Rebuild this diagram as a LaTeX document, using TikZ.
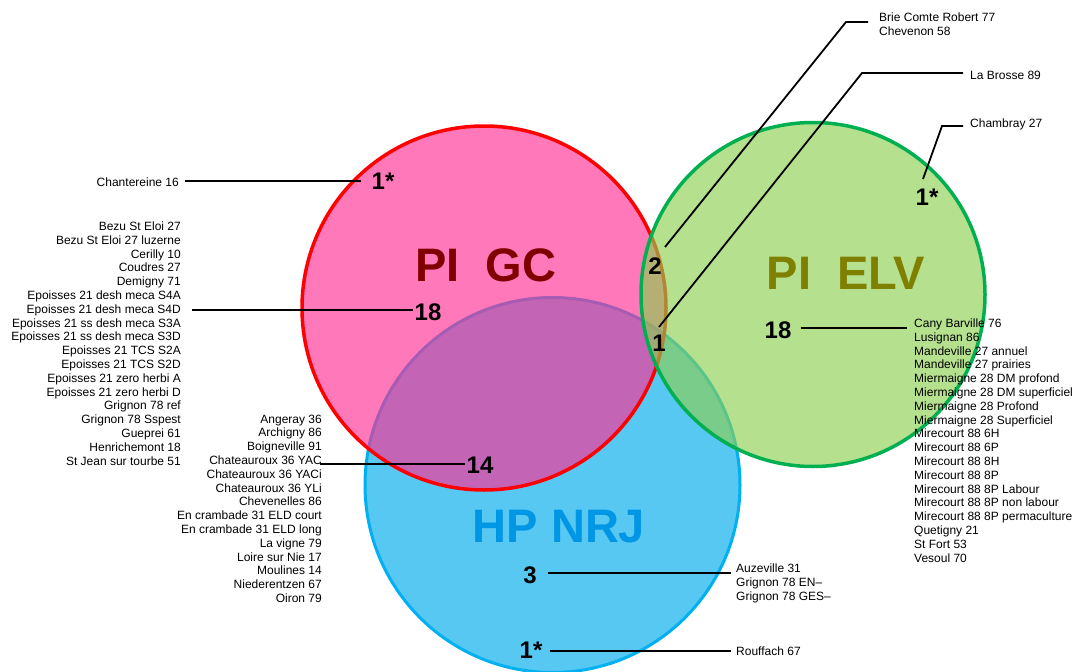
\documentclass[tikz,border=0pt]{standalone}
\usepackage{fontspec}
\setmainfont{Liberation Sans}
\usetikzlibrary{positioning,calc}

\definecolor{gcfill}{RGB}{255,47,147}
\definecolor{gcline}{RGB}{255,0,0}
\definecolor{gctext}{RGB}{128,0,0}
\definecolor{elvfill}{RGB}{141,207,81}
\definecolor{elvline}{RGB}{0,176,80}
\definecolor{elvtext}{RGB}{128,128,0}
\definecolor{nrjfill}{RGB}{86,200,242}
\definecolor{nrjline}{RGB}{0,176,240}
\definecolor{nrjtext}{RGB}{0,150,230}

\tikzset{
  site/.style={inner sep=0pt, font=\fontsize{12}{13.8}\selectfont},
  count/.style={inner sep=1pt, font=\fontsize{24}{24}\selectfont\bfseries},
  group/.style={inner sep=0pt, font=\fontsize{47}{47}\selectfont\bfseries},
  lead/.style={line width=1.8pt}
}

\begin{document}
\begin{tikzpicture}[x=1pt,y=-1pt]

    \useasboundingbox (0,0) rectangle (1074,672);
    %\draw[step=50,help lines] (0,0) grid (1074,672);

    \fill[nrjfill] (552.5,485) circle (187.5pt);
    \draw[nrjline, line width=3pt] (552.5,485) circle (187.5pt);
    \fill[gcfill, opacity=0.65] (484,308) circle (182pt);
    \draw[gcline, line width=3.5pt] (484,308) circle (182pt);
    \fill[elvfill, opacity=0.65] (813,294.5) circle (172pt);
    \draw[elvline, line width=3.5pt] (813,294.5) circle (172pt);

    \node[group, text=gctext] (gc) at (486,265) {PI~~GC};
    \node[group, text=elvtext] (elv) at (846,273) {PI~~ELV};
    \node[group, text=nrjtext] (nrj) at (559,527) {HP NRJ};

    \node[count] (n_ch) at (383,181) {1*};
    \node[count] (n_gc) at (428,312) {18};
    \node[count] (n_gcnrj) at (480,465) {14};
    \node[count] (n_gcelv) at (655,266) {2};
    \node[count] (n_all) at (659,343) {1};
    \node[count] (n_elv) at (778,330) {18};
    \node[count] (n_elv1) at (927,197) {1*};
    \node[count] (n_nrj) at (530,575) {3};
    \node[count] (n_nrj1) at (531,650) {1*};

    \node[site, anchor=east] (chantereine) at (179,182) {Chantereine 16};
    \node[site, anchor=north east, align=right] (gc_list) at (181,221.5) {Bezu St Eloi 27\\Bezu St Eloi 27 luzerne\\Cerilly 10\\Coudres 27\\Demigny 71\\Epoisses 21 desh meca S4A\\Epoisses 21 desh meca S4D\\Epoisses 21 ss desh meca S3A\\Epoisses 21 ss desh meca S3D\\Epoisses 21 TCS S2A\\Epoisses 21 TCS S2D\\Epoisses 21 zero herbi A\\Epoisses 21 zero herbi D\\Grignon 78 ref\\Grignon 78 Sspest\\Gueprei 61\\Henrichemont 18\\St Jean sur tourbe 51};
    \node[site, anchor=north east, align=right] (gcnrj_list) at (322,414.5) {Angeray 36\\Archigny 86\\Boigneville 91\\Chateauroux 36 YAC\\Chateauroux 36 YACi\\Chateauroux 36 YLi\\Chevenelles 86\\En crambade 31 ELD court\\En crambade 31 ELD long\\La vigne 79\\Loire sur Nie 17\\Moulines 14\\Niederentzen 67\\Oiron 79};
    \node[site, anchor=north west, align=left] (elv_list) at (914,318.5) {Cany Barville 76\\Lusignan 86\\Mandeville 27 annuel\\Mandeville 27 prairies\\Miermaigne 28 DM profond\\Miermaigne 28 DM superficiel\\Miermaigne 28 Profond\\Miermaigne 28 Superficiel\\Mirecourt 88 6H\\Mirecourt 88 6P\\Mirecourt 88 8H\\Mirecourt 88 8P\\Mirecourt 88 8P Labour\\Mirecourt 88 8P non labour\\Mirecourt 88 8P permaculture\\Quetigny 21\\St Fort 53\\Vesoul 70};
    \node[site, anchor=north west, align=left] (nrj_list) at (736,563.5) {Auzeville 31\\Grignon 78 EN–\\Grignon 78 GES–};
    \node[site, anchor=west] (rouffach) at (736,651) {Rouffach 67};
    \node[site, anchor=north west, align=left] (brie) at (879,12.5) {Brie Comte Robert 77\\Chevenon 58};
    \node[site, anchor=west] (brosse) at (970,75) {La Brosse 89};
    \node[site, anchor=west] (chambray) at (970,124) {Chambray 27};

    \coordinate (ch_tip) at (185,181);
    \coordinate (gc_tip) at (192,310);
    \coordinate (gcnrj_tip) at (320,464);
    \coordinate (elv_tip) at (907,328);
    \coordinate (nrj_tip) at (731,573);
    \coordinate (nrj1_tip) at (731,651);
    \coordinate (gcelv_tip) at (665,247);
    \coordinate (brie_knee) at (846,22);
    \coordinate (brie_tip) at (868,22);
    \coordinate (all_tip) at (659,327);
    \coordinate (brosse_knee) at (862,73);
    \coordinate (brosse_tip) at (963,73);
    \coordinate (elv1_tip) at (923,179);
    \coordinate (chambray_knee) at (942,126);
    \coordinate (chambray_tip) at (963,126);

    \draw[lead, shorten >=9pt] (ch_tip) to (ch_tip -| n_ch.west);
    \draw[lead] (gc_tip) to (gc_tip -| n_gc.west);
    \draw[lead] (gcnrj_tip) to (gcnrj_tip -| n_gcnrj.west);
    \draw[lead, shorten <=8pt] (elv_tip -| n_elv.east) to (elv_tip);
    \draw[lead, shorten <=10pt] (nrj_tip -| n_nrj.east) to (nrj_tip);
    \draw[lead, shorten <=6pt] (nrj1_tip -| n_nrj1.east) to (nrj1_tip);
    \draw[lead] (gcelv_tip) -- (brie_knee) -- (brie_tip);
    \draw[lead] (all_tip) -- (brosse_knee) -- (brosse_tip);
    \draw[lead] (elv1_tip) -- (chambray_knee) -- (chambray_tip);
\end{tikzpicture}
\end{document}
